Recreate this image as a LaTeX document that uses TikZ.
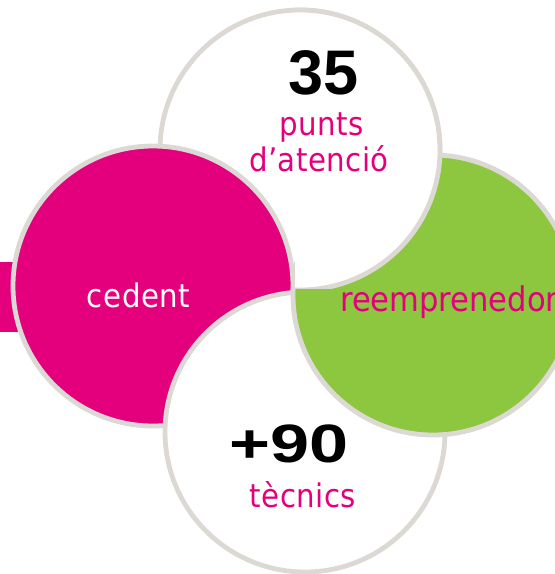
\documentclass[tikz,border=0pt]{standalone}
\usepackage{fontspec}
\setmainfont{DejaVu Sans}
\newfontfamily\labelfont{DejaVu Sans Condensed}[LetterSpace=1.5]
\newfontfamily\wordfont{DejaVu Sans Condensed}
\newfontfamily\handfont{Liberation Sans}
\definecolor{mag}{HTML}{E4007C}
\definecolor{grn}{HTML}{8DC63F}
\definecolor{rim}{HTML}{DCD9D4}
\begin{document}
\begin{tikzpicture}[x=1pt,y=-1pt,
  petal/.style={draw=rim,line width=4.8pt},
  lbl/.style={font=\labelfont\fontsize{32.5}{33}\selectfont, text=mag, inner sep=0pt, anchor=base},
  num/.style={font=\handfont\bfseries\fontsize{63}{63}\selectfont, text=black, inner sep=0pt}]
\useasboundingbox (0,0) rectangle (555,574);
\clip (0,0) rectangle (555,574);
\coordinate (ct) at (300,150);
\coordinate (cl) at (153,286);
\coordinate (cb) at (305,432);
\coordinate (cg) at (433,295);
% magenta tab behind the left petal
\fill[mag] (0,262) rectangle (20,332);
% cyclic layering: top < left < bottom < right < top
\path[petal,fill=white] (ct) circle[radius=140pt];
\path[petal,fill=mag] (cl) circle[radius=140pt];
\path[petal,fill=white] (cb) circle[radius=140pt];
\path[petal,fill=grn] (cg) circle[radius=140pt];
\begin{scope}
  \clip (295,0) rectangle (555,288);
  \path[petal,fill=white] (ct) circle[radius=140pt];
\end{scope}
% texts
\node[num] (n35) at (323.5,72.5) {35};
\node[lbl] (punts) at (321.5,135) {punts};
\node[lbl] (aten) at (319,171.5) {d’atenció};
\node[lbl,text=white] (ced) at (138.5,307) {cedent};
\node[lbl,anchor=base west,font=\wordfont\fontsize{34}{34}\selectfont] (reem) at (340,311.5) {reemprenedor};
\node[num,font=\handfont\bfseries\fontsize{54}{54}\selectfont] (n90) at (289,444) {\scalebox{1.3}[1]{+90}};
\node[lbl] (tec) at (303,507) {tècnics};
\end{tikzpicture}
\end{document}
